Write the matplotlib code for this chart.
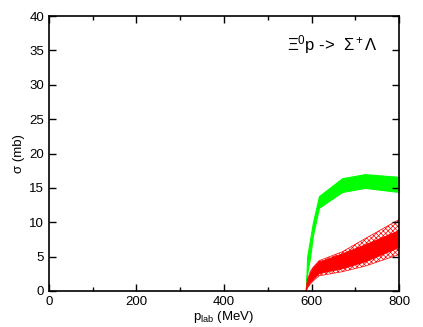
import numpy as np
import matplotlib
matplotlib.use('Agg')
import matplotlib.pyplot as plt
from matplotlib.ticker import MultipleLocator

plt.rcParams['font.family'] = ['Liberation Sans', 'DejaVu Sans']
plt.rcParams['mathtext.fontset'] = 'custom'
plt.rcParams['mathtext.rm'] = 'Liberation Sans'
plt.rcParams['mathtext.it'] = 'Liberation Sans'
plt.rcParams['hatch.linewidth'] = 0.5

# p_lab grid (MeV)
p_lab = [587, 590, 597, 603, 617, 670, 722, 800]

# green band
green_upper = [0, 5.0, 7.6, 9.9, 13.8, 16.4, 17.0, 16.6]
green_lower = [0, 2.5, 5.0, 8.0, 12.1, 14.4, 15.0, 14.4]

# red solid band
red_upper = [0, 1.5, 2.8, 3.4, 4.3, 5.5, 6.8, 8.9]
red_lower = [0, 0.6, 1.3, 1.7, 2.6, 3.3, 4.3, 6.4]

# red hatched band
hatch_upper = [0, 1.5, 2.8, 3.4, 4.4, 5.7, 7.6, 10.4]
hatch_lower = [0, 0.4, 1.0, 1.4, 2.2, 2.8, 3.6, 5.3]

fig = plt.figure(figsize=(4.23, 3.27), dpi=100)
ax = fig.add_axes([0.1158, 0.1101, 0.8275, 0.8409])

ax.fill_between(p_lab, green_lower, green_upper, color='#00ff00', lw=0.8)
ax.fill_between(p_lab, hatch_lower, hatch_upper, facecolor='none',
                edgecolor='red', hatch='xxxxxxx', lw=0.5)
ax.fill_between(p_lab, red_lower, red_upper, color='red', lw=0.5)

ax.set_xlim(0, 800)
ax.set_ylim(0, 40)
ax.xaxis.set_major_locator(MultipleLocator(200))
ax.xaxis.set_minor_locator(MultipleLocator(100))
ax.yaxis.set_major_locator(MultipleLocator(5))
ax.tick_params(which='both', direction='in', top=True, right=True,
               labelsize=9.5, width=1)
ax.tick_params(which='major', length=5)
ax.tick_params(which='minor', length=3)
for s in ax.spines.values():
    s.set_linewidth(1.2)

ax.set_xlabel(r'p$_{\mathrm{lab}}$ (MeV)', fontsize=9.5, labelpad=1)
ax.set_ylabel(u'\u03c3 (mb)', fontsize=9.5)
ax.yaxis.set_label_coords(-0.068, 0.5)

ax.text(545, 35.8, r'$\Xi^0$p ->  $\Sigma^+\Lambda$', fontsize=12, va='center')

plt.savefig('out.png', dpi=100)
